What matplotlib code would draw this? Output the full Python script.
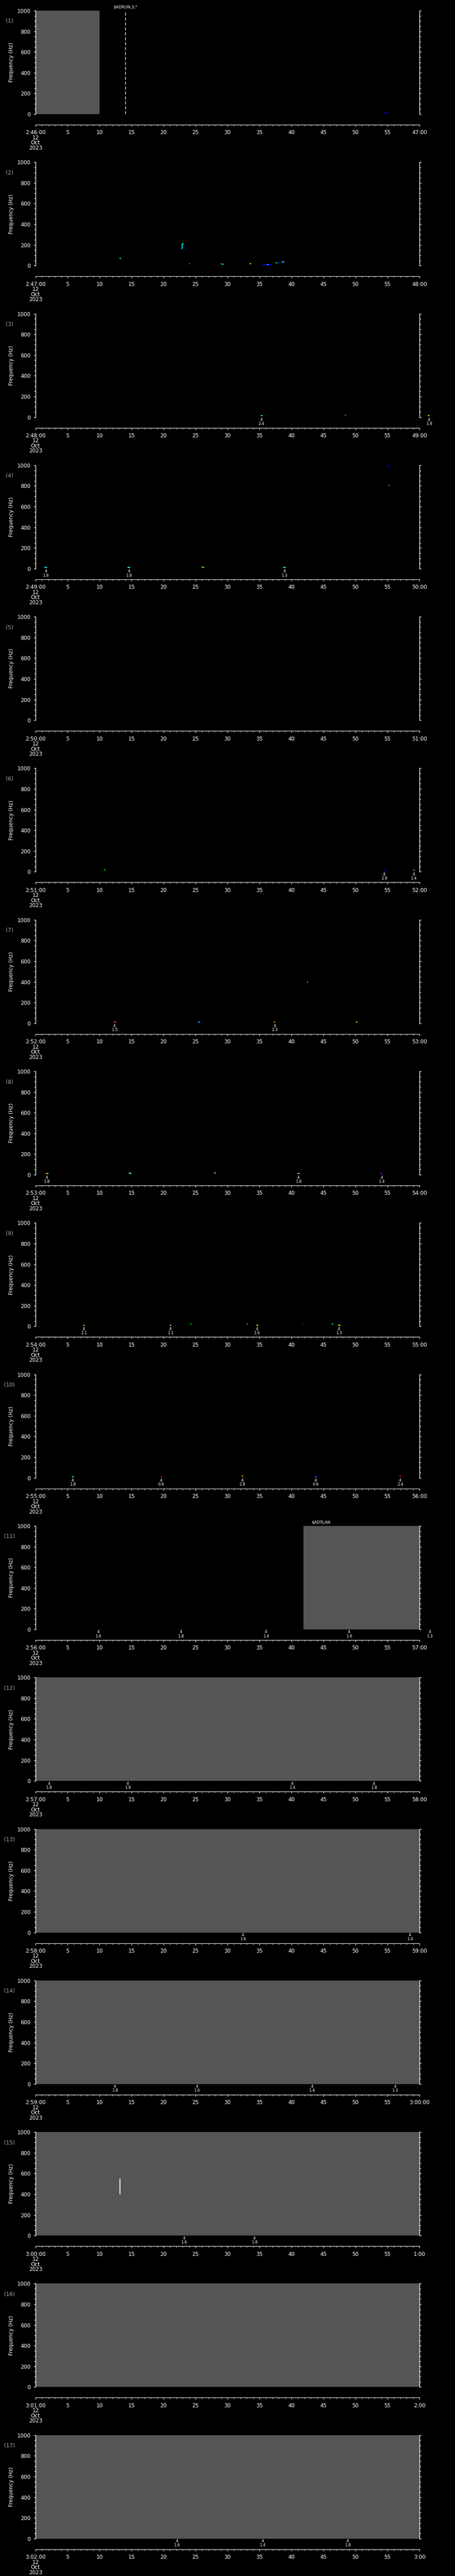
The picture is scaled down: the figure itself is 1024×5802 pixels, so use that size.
import matplotlib
matplotlib.use("Agg")
import matplotlib.pyplot as plt

W, H = 1024, 5802
NP = 17
P = H / NP

# jet-like colours used by the spectrogram blobs
C = {"b": "#0000ff", "c": "#00ffff", "g": "#00ff00", "y": "#ffff00",
     "o": "#ff9900", "r": "#ff0000", "w": "#ffffff"}

start_labels = ["2:46:00", "2:47:00", "2:48:00", "2:49:00", "2:50:00", "2:51:00",
                "2:52:00", "2:53:00", "2:54:00", "2:55:00", "2:56:00", "2:57:00",
                "2:58:00", "2:59:00", "3:00:00", "3:01:00", "3:02:00"]
end_labels = ["47:00", "48:00", "49:00", "50:00", "51:00", "52:00", "53:00", "54:00",
              "55:00", "56:00", "57:00", "58:00", "59:00", "3:00:00", "1:00", "2:00", "3:00"]

# grey (no data) spans: (panel, t0, t1)
spans = [(0, 0, 10), (10, 41.9, 60), (11, 0, 60), (12, 0, 60), (13, 0, 60),
         (14, 0, 60), (15, 0, 60), (16, 0, 60)]

# event markers: (panel, t, label, draw line)
markers = [(0, 14.05, "$ADRUN,3,*", True), (10, 44.6, "$ADTLAN", False)]

# blobs: (panel, t0, t1, f0, f1, colour)
blobs = [
    (0, 54.5, 54.9, 15, 15, "b"),
    (1, 13.1, 13.3, 70, 70, "c"), (1, 13.3, 13.5, 68, 68, "b"),
    (1, 22.7, 22.9, 162, 162, "b"), (1, 22.9, 22.9, 162, 212, "c"), (1, 22.9, 23.1, 212, 212, "c"),
    (1, 24.0, 24.1, 20, 20, "y"),
    (1, 28.9, 29.1, 18, 18, "r"), (1, 29.1, 29.4, 13, 13, "c"),
    (1, 33.5, 33.7, 20, 20, "y"),
    (1, 35.5, 36.9, 11, 11, "b"), (1, 36.2, 36.4, 11, 11, "c"),
    (1, 37.5, 37.8, 25, 25, "g"), (1, 37.8, 38.1, 28, 28, "b"),
    (1, 38.5, 38.9, 37, 37, "c"),
    (2, 35.2, 35.5, 15, 15, "c"),
    (2, 48.3, 48.45, 20, 20, "g"), (2, 48.45, 48.6, 15, 15, "b"),
    (2, 61.3, 61.5, 15, 15, "y"), (2, 61.5, 61.7, 15, 15, "b"),
    (3, 1.4, 1.8, 12, 12, "c"), (3, 14.4, 14.8, 12, 12, "c"),
    (3, 25.9, 26.1, 18, 18, "g"), (3, 26.1, 26.3, 13, 13, "y"),
    (3, 38.7, 39.1, 12, 12, "c"),
    (3, 55.15, 55.25, 978, 1000, "b"), (3, 55.15, 55.3, 806, 806, "o"),
    (5, 10.7, 10.9, 20, 20, "g"),
    (5, 54.4, 54.7, 21, 21, "b"),
    (5, 59.0, 59.25, 13, 13, "o"), (5, 59.25, 59.4, 13, 13, "b"),
    (6, 12.2, 12.4, 12, 12, "r"), (6, 12.4, 12.6, 12, 12, "o"),
    (6, 25.4, 25.6, 12, 12, "c"), (6, 25.6, 25.8, 12, 12, "b"),
    (6, 37.2, 37.45, 12, 12, "o"), (6, 37.45, 37.6, 12, 12, "b"),
    (6, 42.45, 42.6, 400, 400, "y"),
    (6, 50.1, 50.25, 12, 12, "y"), (6, 50.25, 50.4, 12, 12, "b"),
    (7, 1.6, 1.8, 12, 12, "o"), (7, 1.8, 2.0, 12, 12, "c"),
    (7, 14.6, 14.8, 18, 18, "y"), (7, 14.8, 15.0, 12, 12, "c"),
    (7, 27.9, 28.1, 18, 18, "y"), (7, 28.1, 28.3, 12, 12, "b"),
    (7, 40.9, 41.1, 12, 12, "o"), (7, 41.1, 41.3, 12, 12, "c"),
    (7, 53.9, 54.1, 12, 12, "r"), (7, 54.1, 54.3, 12, 12, "b"),
    (8, 7.4, 7.7, 12, 12, "o"),
    (8, 21.0, 21.2, 12, 12, "y"), (8, 21.2, 21.4, 12, 12, "b"),
    (8, 24.2, 24.4, 25, 25, "g"), (8, 33.0, 33.1, 25, 25, "c"),
    (8, 34.5, 34.8, 12, 12, "y"), (8, 41.8, 41.9, 25, 25, "r"),
    (8, 46.3, 46.5, 25, 25, "c"),
    (8, 47.3, 47.5, 12, 12, "y"), (8, 47.5, 47.7, 12, 12, "o"),
    (9, 5.7, 6.0, 12, 12, "c"),
    (9, 19.5, 19.65, 12, 12, "r"), (9, 19.65, 19.8, 12, 12, "b"),
    (9, 32.2, 32.35, 18, 18, "y"), (9, 32.35, 32.5, 12, 12, "r"),
    (9, 43.7, 43.85, 12, 12, "o"), (9, 43.85, 44.0, 12, 12, "b"),
    (9, 56.9, 57.1, 18, 18, "r"), (9, 57.1, 57.3, 12, 12, "b"),
    (14, 13.2, 13.2, 400, 550, "w"),
]

# wave annotations below the trace: (panel, t, top, bottom)
notes = [
    (2, 35.3, "4", "2.4"), (2, 61.5, "4", "1.8"),
    (3, 1.6, "4", "1.6"), (3, 14.6, "4", "1.8"), (3, 38.9, "4", "1.3"),
    (5, 54.5, "4", "2.8"), (5, 59.1, "4", "1.4"),
    (6, 12.35, "4", "1.5"), (6, 37.4, "4", "2.3"),
    (7, 1.75, "4", "1.8"), (7, 41.1, "4", "1.8"), (7, 54.1, "4", "1.4"),
    (8, 7.55, "4", "2.1"), (8, 21.1, "4", "1.1"), (8, 34.6, "4", "1.6"), (8, 47.4, "4", "1.3"),
    (9, 5.8, "4", "1.8"), (9, 19.6, "4", "0.9"), (9, 32.3, "4", "2.8"),
    (9, 43.8, "4", "0.9"), (9, 57.0, "4", "2.4"),
    (10, 9.8, "4", "1.6"), (10, 22.7, "4", "1.8"), (10, 36.0, "4", "1.4"),
    (10, 49.0, "4", "1.6"), (10, 61.6, "4", "1.3"),
    (11, 2.1, "4", "1.8"), (11, 14.4, "4", "1.6"), (11, 40.1, "4", "1.4"), (11, 52.9, "4", "1.8"),
    (12, 32.4, "4", "1.6"), (12, 58.5, "4", "1.4"),
    (13, 12.4, "4", "1.8"), (13, 25.2, "4", "1.6"), (13, 43.2, "4", "1.4"), (13, 56.2, "4", "1.3"),
    (14, 23.2, "4", "1.6"), (14, 34.2, "4", "1.8"),
    (16, 22.1, "4", "1.6"), (16, 35.5, "4", "1.4"), (16, 48.8, "4", "1.8"),
]

FS = 8.6
fig = plt.figure(figsize=(W / 100, H / 100), dpi=100, facecolor="black")


def box(x, y, w, h):
    return [x / W, 1 - (y + h) / H, w / W, h / H]


for i in range(NP):
    y0 = i * P
    ax = fig.add_axes(box(80, y0 + 24, 864, 233))
    ax.set_facecolor("black")
    ax.set_xlim(0, 60)
    ax.set_ylim(0, 1000)
    for s in ("top", "bottom"):
        ax.spines[s].set_visible(False)
    for s in ("left", "right"):
        ax.spines[s].set_color("white")
        ax.spines[s].set_linewidth(1.0)
    ax.set_xticks([])
    ax.set_yticks(range(0, 1001, 200))
    ax.set_yticks(range(0, 1001, 50), minor=True)
    ax.tick_params(axis="y", which="both", direction="out", colors="white",
                   left=True, right=True, labelsize=FS, width=1.0, pad=5)
    ax.tick_params(axis="y", which="major", length=3)
    ax.tick_params(axis="y", which="minor", length=2.2)
    ax.set_ylabel("Frequency (Hz)", color="white", fontsize=FS)
    ax.yaxis.set_label_coords(-0.056, 0.5)

    for p, t0, t1 in spans:
        if p == i:
            ax.axvspan(t0, t1, color="#555555", lw=0)
    for p, t0, t1, f0, f1, c in blobs:
        if p == i:
            ax.plot([t0, t1], [f0, f1], color=C[c], lw=1.6, solid_capstyle="butt",
                    clip_on=False)
    for p, t, lab, line in markers:
        if p == i:
            if line:
                ax.axvline(t, color="white", lw=1.0, ls=(0, (5, 3)))
            ax.text(t, 1.035, lab, transform=ax.get_xaxis_transform(), color="white",
                    fontsize=6.5, ha="center", va="center")
    for p, t, a, b in notes:
        if p == i:
            tr = ax.get_xaxis_transform()
            ax.text(t, -0.026, a, transform=tr, color="white", fontsize=6.3,
                    ha="center", va="center", clip_on=False)
            ax.text(t, -0.065, b, transform=tr, color="white", fontsize=6.3,
                    ha="center", va="center", clip_on=False)

    fig.text(21 / W, 1 - (y0 + 48) / H, "(%d)" % (i + 1), color="#a8a8a8",
             fontsize=FS, ha="center", va="center")

    # separate time axis below the panel
    tax = fig.add_axes(box(80, y0 + 280, 864, 1))
    tax.patch.set_visible(False)
    for s in ("top", "left", "right"):
        tax.spines[s].set_visible(False)
    tax.spines["bottom"].set_color("white")
    tax.set_xlim(0, 60)
    tax.set_yticks([])
    tax.set_xticks(range(0, 61, 5))
    tax.set_xticks(range(0, 61, 1), minor=True)
    labels = [start_labels[i] + "\n12\nOct\n2023"] + [str(v) for v in range(5, 60, 5)] + [end_labels[i]]
    tax.set_xticklabels(labels)
    tax.tick_params(axis="x", which="both", direction="out", colors="white",
                    labelsize=FS, pad=5)
    tax.tick_params(axis="x", which="major", length=3.2)
    tax.tick_params(axis="x", which="minor", length=2.2)
    for lab in tax.get_xticklabels():
        lab.set_linespacing(0.85)

fig.savefig("out.png", dpi=100, facecolor="black")
